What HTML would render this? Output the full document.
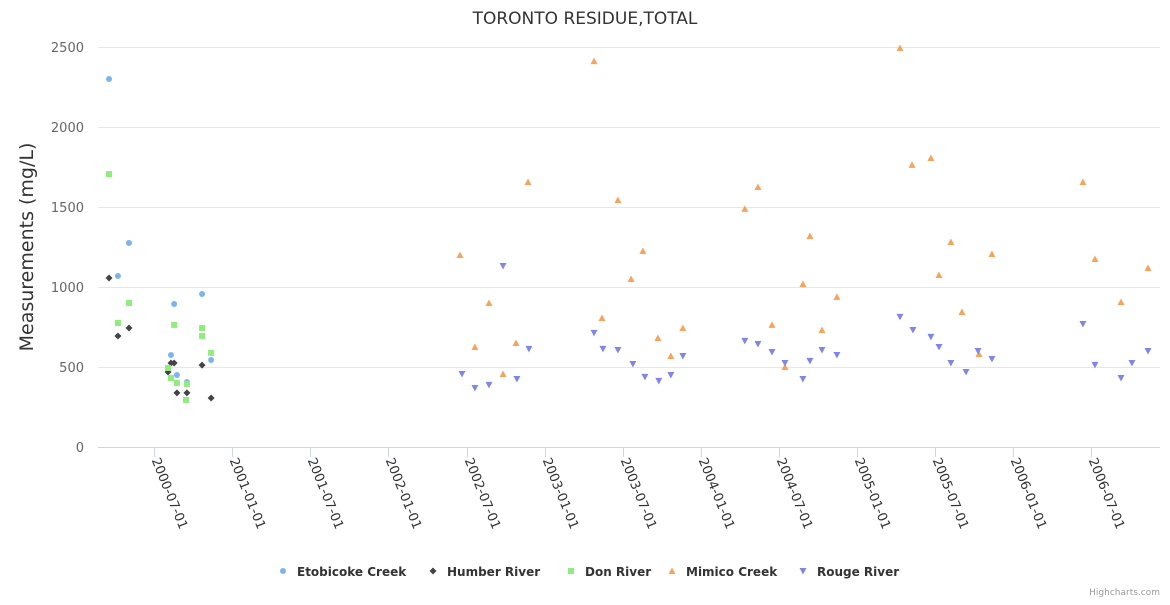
<!DOCTYPE html>
<html><head><meta charset="utf-8"><style>
body{margin:0;background:#fff;}
svg text{font-family:"DejaVu Sans","Liberation Sans",sans-serif;}
</style></head><body>
<svg id="chart" width="1170" height="600" xmlns="http://www.w3.org/2000/svg">
<rect width="1170" height="600" fill="#fff"/>
<text x="585" y="24" text-anchor="middle" font-size="17" fill="#333">TORONTO RESIDUE,TOTAL</text>
<text transform="translate(33,247) rotate(-90)" text-anchor="middle" font-size="19" fill="#333">Measurements (mg/L)</text>
<g id="grid"></g><g id="xaxis"></g><g id="marks"></g><g id="legend"></g>
<text x="1160" y="595" text-anchor="end" font-size="9" fill="#999">Highcharts.com</text>
</svg>
<script>
const yTicks=[0,500,1000,1500,2000,2500];
const xTickYears=[2000.5,2001,2001.5,2002,2002.5,2003,2003.5,2004,2004.5,2005,2005.5,2006,2006.5];
const xTickLabels=["2000-07-01","2001-01-01","2001-07-01","2002-01-01","2002-07-01","2003-01-01","2003-07-01","2004-01-01","2004-07-01","2005-01-01","2005-07-01","2006-01-01","2006-07-01"];
const seriesNames=["Etobicoke Creek","Humber River","Don River","Mimico Creek","Rouge River"];
const etoT=[2000.210,2000.338,2000.267,2000.627,2000.806,2000.607,2000.645,2000.709,2000.864];
const etoV=[2300,1275,1069,894,956,575,450,406,544];
const humT=[2000.210,2000.267,2000.338,2000.607,2000.627,2000.588,2000.645,2000.709,2000.806,2000.864];
const humV=[1056,694,744,525,525,469,338,338,512,306];
const donT=[2000.210,2000.338,2000.267,2000.627,2000.806,2000.806,2000.864,2000.588,2000.607,2000.645,2000.709,2000.703];
const donV=[1706,900,775,763,744,694,588,494,431,400,394,294];
const mimT=[2002.458,2002.554,2002.644,2002.734,2002.817,2002.894,2003.317,2003.368,2003.470,2003.554,2003.630,2003.726,2003.809,2003.886,2004.283,2004.367,2004.457,2004.540,2004.655,2004.700,2004.777,2004.873,2005.277,2005.354,2005.475,2005.527,2005.603,2005.674,2005.783,2005.866,2006.449,2006.526,2006.693,2006.866];
const mimV=[1200,625,900,456,650,1656,2412,806,1544,1050,1225,681,569,744,1488,1625,763,500,1019,1319,731,938,2494,1763,1806,1075,1281,844,581,1206,1656,1175,906,1119];
const rouT=[2002.471,2002.554,2002.644,2002.734,2002.823,2002.900,2003.317,2003.374,2003.470,2003.566,2003.643,2003.732,2003.809,2003.886,2004.283,2004.367,2004.457,2004.540,2004.655,2004.700,2004.777,2004.873,2005.277,2005.360,2005.475,2005.527,2005.603,2005.700,2005.777,2005.866,2006.449,2006.526,2006.693,2006.763,2006.866];
const rouV=[456,369,388,1131,425,613,713,613,606,519,438,413,450,569,663,644,594,525,425,538,606,575,813,731,688,625,525,469,600,550,769,513,431,525,600];

const NS="http://www.w3.org/2000/svg";
const L=98,R=1160,Y0=447,Y1=47;
function xS(t){return 154.3+(t-2000.5)*156.1;}
function yS(v){return Y0-(v/2500)*(Y0-Y1);}
function mk(tag,attrs,parent){const e=document.createElementNS(NS,tag);for(const k in attrs)e.setAttribute(k,attrs[k]);parent.appendChild(e);return e;}
const grid=document.getElementById('grid'),xa=document.getElementById('xaxis'),marks=document.getElementById('marks'),leg=document.getElementById('legend');
yTicks.forEach(v=>{
  const ln=mk('line',{x1:L,x2:R,y1:yS(v)+0.5,y2:yS(v)+0.5,stroke:v===0?'#ccd6eb':'#e6e6e6','stroke-width':1},grid);
  
  
  const t=mk('text',{x:84,y:yS(v)+5,'text-anchor':'end','font-size':13,fill:'#666'},grid);
  t.textContent=v;
  
  
});
xTickYears.forEach((ty,i)=>{
  const x=Math.round(xS(ty))+0.5;
  const tk=mk('line',{x1:x,x2:x,y1:Y0,y2:Y0+10,stroke:'#ccd6eb'},xa);
  
  
  const t=mk('text',{transform:`translate(${x-3},${Y0+13}) rotate(68)`,'font-size':13,fill:'#333'},xa);
  t.textContent=xTickLabels[i];
  
  
});
function marker(type,cx,cy,color,parent){
  let e;
  if(type===0)e=mk('circle',{cx:cx,cy:cy,r:3,fill:color},parent);
  else if(type===1)e=mk('path',{d:`M${cx},${cy-3.5}L${cx+3.5},${cy}L${cx},${cy+3.5}L${cx-3.5},${cy}Z`,fill:color},parent);
  else if(type===2)e=mk('rect',{x:cx-3,y:cy-3,width:6,height:6,fill:color},parent);
  else if(type===3)e=mk('path',{d:`M${cx},${cy-3.5}L${cx+3.5},${cy+3}L${cx-3.5},${cy+3}Z`,fill:color},parent);
  else e=mk('path',{d:`M${cx-3.5},${cy-3}L${cx+3.5},${cy-3}L${cx},${cy+3.5}Z`,fill:color},parent);
  return e;
}
const colors=['#7cb5ec','#434348','#90ed7d','#f7a35c','#8085e9'];
const ser=[[etoT,etoV],[humT,humV],[donT,donV],[mimT,mimV],[rouT,rouV]];
const ids=['etobicoke','humber','don','mimico','rouge'];
ser.forEach((s,si)=>{
  const g=mk('g',{},marks);
  
  
  s[0].forEach((t,i)=>{
    const p=marker(si,xS(t),yS(s[1][i]),colors[si],g);
    
    
  });
});
const legX=[283,433,571,672,803];
seriesNames.forEach((n,i)=>{
  const g=mk('g',{},leg);
  
  
  marker(i,legX[i],571,colors[i],g);
  const t=mk('text',{x:legX[i]+14,y:576,'font-size':12,'font-weight':'bold',fill:'#333'},g);
  t.textContent=n;
});
</script>
</body></html>
